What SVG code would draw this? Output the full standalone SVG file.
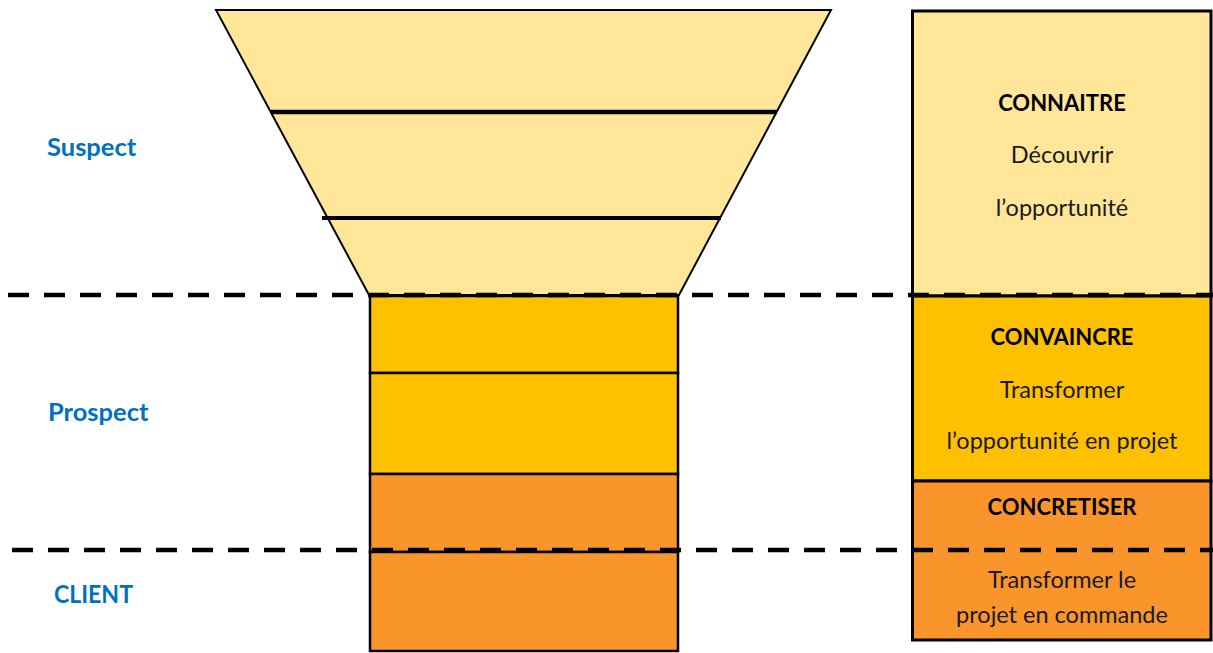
<svg xmlns="http://www.w3.org/2000/svg" width="1213" height="653" viewBox="0 0 1213 653">
<style>
.lbl{font-family:Lato,"Liberation Sans",sans-serif;font-weight:bold;font-size:25.5px;fill:#0070C0}
.hd{font-family:Lato,"Liberation Sans",sans-serif;font-weight:bold;font-size:22px;fill:#000;text-anchor:middle}
.tx{font-family:Lato,"Liberation Sans",sans-serif;font-size:23.5px;fill:#1a1a1a;text-anchor:middle}
.sep{stroke:#000;stroke-width:4.5;stroke-dasharray:21 15;fill:none}
.box{stroke:#000;stroke-width:2.5}
</style>
<rect width="1213" height="653" fill="#fff"/>
<g id="funnel">
<polygon points="216,10 831,10 679,295 369,295" fill="#FFE699" stroke="#000" stroke-width="2"/>
<line x1="271" y1="112" x2="777" y2="112" stroke="#000" stroke-width="4.5"/>
<line x1="322" y1="218" x2="721" y2="218" stroke="#000" stroke-width="4"/>
</g>
<g id="tube">
<rect class="box" x="370" y="296" width="308" height="77" fill="#FFC000"/>
<rect class="box" x="370" y="373" width="308" height="101" fill="#FFC000"/>
<rect class="box" x="370" y="474" width="308" height="78" fill="#F9952A"/>
<rect class="box" x="370" y="552" width="308" height="99" fill="#F9952A"/>
</g>
<g id="labels">
<text class="lbl" x="47" y="156">Suspect</text>
<text class="lbl" x="48" y="421">Prospect</text>
<text class="lbl" x="54" y="603" textLength="79" lengthAdjust="spacingAndGlyphs" style="font-size:24px">CLIENT</text>
</g>
<g id="connaitre">
<rect x="912.5" y="11" width="298.5" height="285" fill="#FFE699" stroke="#000" stroke-width="3"/>
<text class="hd" x="1062" y="111">CONNAITRE</text>
<text class="tx" x="1062" y="163">Découvrir</text>
<text class="tx" x="1062" y="216">l’opportunité</text>
</g>
<g id="convaincre">
<rect x="912.5" y="296" width="298.5" height="185" fill="#FFC000" stroke="#000" stroke-width="3"/>
<text class="hd" x="1062" y="345">CONVAINCRE</text>
<text class="tx" x="1062" y="398">Transformer</text>
<text class="tx" x="1062" y="449">l’opportunité en projet</text>
</g>
<g id="concretiser">
<rect x="912.5" y="481" width="298.5" height="159" fill="#F9952A" stroke="#000" stroke-width="3"/>
<text class="hd" x="1062" y="515">CONCRETISER</text>
<text class="tx" x="1062" y="588">Transformer le</text>
<text class="tx" x="1062" y="623">projet en commande</text>
</g>
<g id="connectors">
<line class="sep" x1="8" y1="295" x2="1213" y2="295"/>
<line class="sep" x1="12" y1="550" x2="1213" y2="550"/>
</g>
</svg>
